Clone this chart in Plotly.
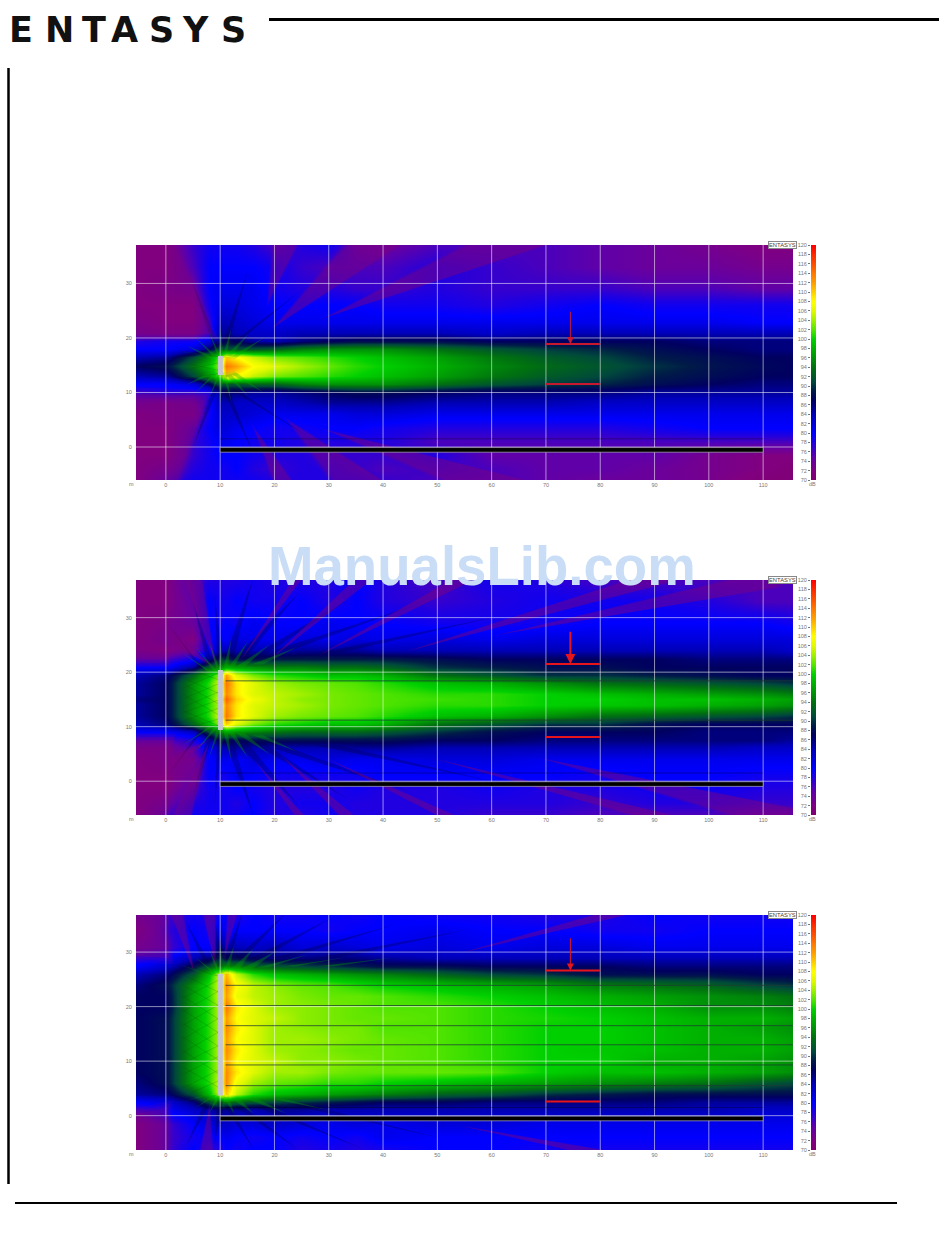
"""ENTASYS line array coverage maps: three SPL panels with dB scales."""

import plotly.graph_objects as go

W, H = 950, 1241

X_COLS = [-5.5, 0, 5, 8, 10, 11, 13, 16, 20, 25, 30, 35, 40, 50, 60, 70, 80, 90, 100, 110, 115.5]

Y_ROWS_1 = [37, 33, 29, 26, 23, 21, 19.5, 18, 16.5, 14.8, 13, 11.5, 10, 8, 6, 3.5, 1, -1.5, -4, -6]
SPL_1 = [
    [72, 72, 77, 79, 79, 79, 79, 78, 76, 78, 79, 75, 74, 76, 76, 76, 75, 74, 73, 72, 72],
    [72, 72, 76, 80, 80, 80, 80, 80, 79, 77, 76, 76, 76, 78, 77, 76, 75, 74, 74, 73, 73],
    [72, 73, 74, 80, 81, 81, 81, 81, 79, 78, 78, 77, 77, 78, 77, 77, 77, 76, 76, 75, 75],
    [72, 72, 72, 79, 82, 82, 82, 81, 80, 80, 80, 80, 79, 79, 78, 79, 80, 79, 79, 79, 79],
    [73, 72, 72, 77, 84, 84, 83, 82, 81, 81, 81, 81, 81, 81, 81, 81, 81, 81, 81, 80, 80],
    [74, 73, 73, 78, 85, 85, 84, 83, 83, 84, 84, 84, 84, 84, 83, 84, 84, 84, 84, 84, 84],
    [78, 79, 79, 82, 86, 88, 87, 85, 84, 86, 87, 88, 88, 88, 87, 87, 87, 87, 86, 86, 86],
    [80, 80, 82, 87, 92, 92, 92, 92, 93, 95, 96, 96, 96, 94, 92, 90.5, 89.5, 88, 87, 86, 86],
    [84, 85, 91, 96, 103, 110, 108, 105, 103, 102, 101, 100, 99, 97, 94.5, 92.5, 91, 89, 88, 87, 87],
    [87, 88, 94, 99, 104, 114, 112, 108, 106, 104, 102.5, 101, 100, 98, 95.5, 93.5, 92, 90, 88.5, 87.5, 87],
    [84, 85, 91, 96, 103, 110, 108, 105, 103, 102, 101, 100, 99, 97, 94.5, 92.5, 91, 89, 88, 87, 87],
    [80, 80, 82, 87, 92, 92, 92, 93, 93, 95, 96, 96, 96, 94, 92, 90.5, 89.5, 88, 87, 86, 86],
    [78, 79, 78, 80, 86, 87, 86, 85, 85, 86, 87, 88, 88, 87, 86, 86, 86, 85, 85, 85, 85],
    [74, 73, 74, 79, 84, 84, 83, 83, 83, 84, 85, 85, 85, 84, 84, 84, 83, 83, 83, 83, 83],
    [72, 73, 73, 79, 83, 83, 83, 82, 81, 81, 81, 82, 82, 81, 81, 81, 81, 81, 81, 81, 81],
    [72, 72, 76, 80, 82, 82, 81, 80, 79, 79, 80, 80, 79, 78, 78, 78, 78, 79, 80, 80, 80],
    [72, 72, 77, 79, 81, 81, 80, 79, 79, 78, 78, 78, 78, 76, 76, 76, 76, 76, 76, 76, 76],
    [72, 72, 77, 79, 80, 80, 80, 79, 78, 78, 77, 77, 77, 78, 75, 75, 75, 75, 73, 72, 72],
    [72, 74, 78, 79, 79, 79, 80, 78, 77, 78, 78, 77, 76, 77, 76, 75, 75, 74, 73, 72, 71],
    [72, 76, 79, 79, 79, 79, 79, 79, 78, 78, 78, 78, 77, 76, 76, 75, 74, 74, 73, 71, 71],
]

Y_ROWS_2 = [37, 33, 29, 26, 24, 22.5, 21, 19.5, 18, 16, 15, 14, 12, 10.5, 9, 7.5, 6, 4, 1, -1.5, -4, -6]
SPL_2 = [
    [72, 72, 76, 78, 78, 78, 78, 79, 78, 78, 78, 80, 78, 76, 79, 78, 76, 76, 76, 76, 76],
    [72, 72, 75, 80, 79, 79, 80, 79, 79, 80, 78, 80, 78, 77, 78, 79, 79, 79, 78, 76, 76],
    [72, 73, 74, 80, 79, 80, 79, 81, 80, 80, 81, 80, 80, 79, 79, 79, 80, 80, 80, 80, 79],
    [72, 74, 72, 80, 81, 80, 82, 81, 81, 82, 81, 82, 81, 82, 81, 82, 82, 82, 82, 82, 82],
    [73, 72, 74, 80, 84, 84, 84, 84, 84, 85, 85, 85, 84, 84, 84, 84, 84, 84, 84, 84, 83],
    [76, 76, 79, 85, 90, 90, 88, 88, 89, 89, 89, 89, 89, 88, 87, 87, 87, 87, 86, 86, 86],
    [80, 80, 85, 93, 96, 98, 97, 96, 95, 95, 94, 94, 93, 90, 89, 88, 88, 87, 87, 87, 87],
    [84, 86, 93, 99, 104, 112, 106, 103, 101, 100, 99, 99, 98, 94, 92, 90, 90, 89, 88, 87, 87],
    [85, 87, 96, 101, 106, 114, 109, 106, 104, 103, 102.5, 102, 101, 99, 98, 96, 94, 93, 92, 91, 90],
    [85, 87, 96, 101, 105, 113, 109, 106, 105, 104, 103, 102.5, 102, 101, 101, 100, 99, 98, 97, 96, 95],
    [86, 87, 96, 101, 106, 115, 110, 107, 105, 103.5, 103, 102.5, 102, 101.5, 101, 100, 100, 99, 99, 98, 97],
    [85, 87, 96, 101, 105, 113, 109, 106, 105, 104, 103, 102.5, 102, 101, 101, 100, 99.5, 99, 98, 97, 96],
    [85, 87, 96, 101, 106, 114, 109, 106, 104, 103, 102.5, 102, 101, 99, 98, 96, 94, 93, 92, 91, 90],
    [84, 86, 93, 99, 104, 110, 106, 103, 101, 100, 99, 99, 98, 94, 92, 90, 90, 88, 87, 87, 87],
    [80, 80, 83, 91, 95, 97, 96, 95, 94, 93, 93, 93, 92, 90, 88, 87, 87, 87, 86, 86, 86],
    [76, 76, 78, 84, 88, 88, 87, 88, 88, 88, 88, 88, 88, 87, 87, 86, 86, 86, 86, 86, 85],
    [73, 73, 76, 81, 84, 84, 85, 84, 84, 84, 84, 85, 85, 84, 84, 84, 84, 84, 84, 83, 83],
    [72, 73, 73, 80, 81, 81, 80, 82, 81, 81, 82, 81, 81, 82, 82, 81, 81, 81, 81, 81, 81],
    [72, 72, 74, 80, 79, 79, 81, 80, 79, 79, 79, 79, 80, 80, 80, 80, 79, 80, 80, 79, 79],
    [72, 72, 76, 79, 79, 79, 80, 79, 78, 78, 78, 79, 78, 78, 79, 78, 78, 79, 79, 78, 78],
    [72, 74, 78, 79, 79, 79, 78, 80, 78, 79, 79, 78, 78, 78, 78, 78, 77, 78, 78, 77, 77],
    [72, 76, 79, 79, 79, 79, 79, 80, 78, 78, 79, 78, 78, 78, 77, 77, 76, 76, 76, 75, 75],
]

Y_ROWS_3 = [37, 34, 31, 29, 27.5, 26, 24, 22, 20, 18, 16, 14, 12, 10, 8, 6, 4, 2.5, 1, -1.5, -4, -6]
SPL_3 = [
    [74, 76, 79, 78, 79, 80, 78, 80, 79, 79, 80, 79, 80, 79, 79, 78, 78, 80, 79, 79, 79],
    [72, 77, 80, 79, 82, 80, 80, 80, 80, 80, 79, 80, 80, 81, 80, 80, 79, 79, 80, 80, 80],
    [74, 76, 80, 80, 86, 84, 84, 83, 84, 82, 83, 82, 81, 82, 81, 82, 82, 81, 81, 81, 81],
    [78, 80, 84, 86, 90, 88, 88, 87, 86, 86, 86, 86, 85, 84, 84, 84, 84, 84, 84, 84, 84],
    [80, 83, 88, 92, 96, 95, 95, 93, 92, 91, 90, 89, 88, 88, 87, 87, 87, 86, 86, 86, 86],
    [84, 86, 92, 99, 106, 111, 105, 101, 99, 98, 97, 96, 95, 93, 91, 90, 88, 88, 88, 87, 87],
    [86, 88, 96, 101, 106, 113, 108, 105, 103.5, 102.5, 102, 101, 100, 99, 98, 97, 95, 94, 93, 91, 90],
    [87, 87, 97, 101, 106, 112, 107, 105, 104, 103, 102.5, 102.5, 102, 101, 100, 99, 98, 97, 96, 95, 94],
    [87, 87, 97, 101, 105, 114, 109, 106, 104, 103.5, 103, 102.5, 102, 102, 101, 100, 99, 98, 96, 96, 95],
    [87, 88, 97, 101, 105, 112, 108, 106, 105, 103.5, 103, 102.5, 102.5, 102, 101, 100.5, 100, 99, 98, 98, 97],
    [87, 88, 97, 101, 105, 113, 109, 106, 104, 103.5, 103, 103, 102, 102, 101, 100, 100, 99, 98, 97, 96],
    [87, 88, 97, 101, 105, 112, 108, 106, 104, 104, 103.5, 103, 102.5, 102, 101, 100, 100, 99, 98, 98, 97],
    [87, 88, 97, 101, 105, 113, 109, 106, 104, 103.5, 103, 102.5, 102.5, 102, 101, 100, 99.5, 99, 98, 98, 97],
    [87, 88, 97, 101, 105, 112, 108, 106, 105, 103.5, 103.5, 103, 102.5, 102, 101, 100, 100, 98, 98, 97, 96],
    [87, 88, 97, 101, 105, 113, 109, 106, 104, 104, 103, 102.5, 102.5, 102.5, 102, 100, 99, 99, 98, 97, 96],
    [86, 88, 97, 101, 106, 113, 107, 104, 102.5, 102, 101, 101, 100, 99, 98, 97, 96, 95, 94, 92, 91],
    [85, 86, 92, 99, 106, 110, 105, 101, 99, 98, 97, 96, 95, 93, 92, 90, 89, 88, 88, 88, 88],
    [80, 82, 86, 92, 95, 94, 93, 92, 91, 90, 89, 88, 87, 87, 86, 86, 86, 86, 85, 85, 85],
    [76, 80, 83, 84, 86, 85, 85, 84, 85, 85, 84, 84, 84, 84, 84, 84, 84, 84, 84, 83, 83],
    [72, 76, 80, 82, 83, 83, 82, 82, 83, 82, 81, 82, 81, 82, 82, 81, 81, 81, 81, 81, 81],
    [72, 76, 79, 80, 80, 81, 80, 79, 80, 79, 80, 79, 81, 80, 80, 80, 80, 80, 80, 80, 80],
    [72, 76, 80, 78, 78, 80, 79, 80, 80, 78, 79, 78, 79, 80, 80, 79, 79, 79, 79, 79, 79],
]

# low level lobes, too narrow for the grids above: polygons in metres
PURPLE_1 = [
    [(-5.5, 37.1), (1.5, 37.1), (8.5, 20.8), (-5.5, 20.8)],
    [(-5.5, 9.6), (7.5, 9.3), (2, -6.1), (-5.5, -6.1)],
    [(20.5, 22.5), (33.5, 37.1), (43, 37.1)],
    [(30, 24), (56, 37.1), (70, 37.1)],
    [(19, 27), (20, 37.1), (24, 37.1)],
    [(23, 4.5), (31, -6.1), (39.5, -6.1)],
    [(30, 3), (52, -6.1), (66, -6.1)],
    [(16.5, 3), (20, -6.1), (23, -6.1)],
]
PURPLE_2 = [
    [(-5.5, 37.1), (0, 37.1), (0.2, 22.5), (-5.5, 22.5)],
    [(-5.5, 7.3), (1, 7.3), (0, -6.2), (-5.5, -6.2)],
    [(8, 21.5), (0, 26), (0, 28.5)],
    [(7, 7), (0, 1.5), (0, 4)],
    [(9, 22), (3.5, 37.1), (6.5, 37.1)],
    [(7.5, 6), (1.5, -6.2), (4.5, -6.2)],
    [(14, 22.5), (23.5, 37.1), (25, 37.1)],
    [(20, 23), (35, 37.1), (38, 37.1)],
    [(29, 23.5), (53, 37.1), (57, 37.1)],
    [(45, 24), (86, 37.1), (95, 37.1)],
    [(62, 27), (112, 35.5), (113, 37.1), (105, 37.1)],
    [(17, 3), (23.8, -6.2), (25.3, -6.2)],
    [(22, 4), (32, -6.2), (34.5, -6.2)],
    [(30, 4), (50, -6.2), (53, -6.2)],
    [(50, 4), (86, -6.2), (93, -6.2)],
    [(70, 4), (105, -6.2), (114, -6.2), (115.5, -5)],
]
PURPLE_3 = [
    [(-5.5, 37.1), (-0.5, 37.1), (0.5, 29), (-5.5, 29.5)],
    [(-5.5, -6.4), (0, -6.4), (0.3, 1.5), (-5.5, 0)],
    [(5, 27), (1, 37.1), (3, 37.1)],
    [(9, 28), (7, 37.1), (9, 37.1)],
    [(11, 30), (11.5, 37.1), (13, 37.1)],
    [(8, 1), (6.5, -6.4), (8.5, -6.4)],
    [(55, 30), (80, 37.1), (86, 37.1)],
    [(55, -2), (75, -6.4), (81, -6.4)],
]

# dark streaks and green spikes fanning out of the array ends: tip first, then base
NAVY_1 = [
    [(5, 30), (8.5, 19), (9.5, 19)],
    [(15, 32), (10.5, 19), (11.5, 19)],
    [(24, 28), (12, 19), (13, 19)],
    [(5, 0), (8.5, 10.5), (9.5, 10.5)],
    [(16, -1), (10.5, 10.5), (11.5, 10.5)],
    [(26, 2), (12, 10.5), (13, 10.5)],
]
NAVY_2 = [
    [(9, 34), (9.5, 21.5), (10.5, 21.5)],
    [(16, 37), (11, 23), (12.5, 23)],
    [(24, 34), (13, 23), (15, 23)],
    [(33, 33), (16, 23), (18, 23)],
    [(45, 32), (20, 24), (23, 24)],
    [(60, 30), (28, 23.5), (32, 23.5)],
    [(5, 33), (7.5, 22), (8.5, 22)],
    [(1, 28), (6, 21), (7, 20.5)],
    [(9, -4), (9.5, 8.5), (10.5, 8.5)],
    [(16, -6), (11, 7), (12.5, 7)],
    [(24, -4), (13, 7), (15, 7)],
    [(33, -3), (16, 7), (18, 7)],
    [(45, -2), (20, 6), (23, 6)],
    [(60, 0), (28, 6.5), (32, 6.5)],
    [(5, -3), (7.5, 8), (8.5, 8)],
    [(1, 2), (6, 9), (7, 9.5)],
]
NAVY_3 = [
    [(9, 36), (9.5, 27.5), (10.5, 27.5)],
    [(14, 37), (11, 29), (12, 29)],
    [(22, 37), (13, 29), (14.5, 29)],
    [(30, 36), (16, 29), (18, 29)],
    [(42, 35), (20, 29), (23, 29)],
    [(55, 34), (28, 29), (32, 29)],
    [(4, 35), (7, 28), (8, 28)],
    [(9, -5), (9.5, 2.5), (10.5, 2.5)],
    [(16, -6), (11, 1.5), (12, 1.5)],
    [(24, -6), (13, 1.5), (14.5, 1.5)],
    [(36, -6), (17, 1.5), (19, 1.5)],
    [(50, -4), (23, 2), (26, 2)],
    [(4, -5), (7, 2), (8, 2)],
]
GREEN_1 = [
    [(4, 18.5), (8.5, 16), (9, 16.5)],
    [(5.5, 20), (8.8, 16.5), (9.2, 16.8)],
    [(8, 21), (9.5, 16.8), (10, 16.8)],
    [(10, 22), (10, 16.8), (10.6, 16.8)],
    [(12, 21.5), (10.5, 16.8), (11.2, 16.8)],
    [(15, 20.5), (11, 16.8), (12, 16.6)],
    [(18, 20), (12, 16.6), (13, 16.4)],
    [(4, 11.5), (8.5, 14), (9, 13.5)],
    [(5.5, 10), (8.8, 13.5), (9.2, 13.2)],
    [(8, 9), (9.5, 13.2), (10, 13.2)],
    [(10, 8), (10, 13.2), (10.6, 13.2)],
    [(12, 8.5), (10.5, 13.2), (11.2, 13.2)],
    [(15, 9.5), (11, 13.2), (12, 13.4)],
    [(18, 10), (12, 13.4), (13, 13.6)],
]
GREEN_2 = [
    [(3, 23.5), (8, 20), (8.6, 20)],
    [(5.5, 24.5), (8.8, 20.3), (9.4, 20.3)],
    [(8, 25.5), (9.4, 20.4), (10, 20.4)],
    [(10, 26.5), (10, 20.4), (10.6, 20.4)],
    [(12, 26), (10.6, 20.6), (11.4, 20.6)],
    [(15, 25.5), (11.5, 20.8), (12.5, 20.8)],
    [(19, 25), (13, 21), (14.5, 21)],
    [(24, 24.5), (16, 21.5), (18, 21.5)],
    [(3, 6.5), (8, 10), (8.6, 10)],
    [(5.5, 5.5), (8.8, 9.7), (9.4, 9.7)],
    [(8, 4.5), (9.4, 9.4), (10, 9.4)],
    [(10, 3.5), (10, 9.4), (10.6, 9.4)],
    [(12, 4), (10.6, 9.2), (11.4, 9.2)],
    [(15, 4.5), (11.5, 9), (12.5, 9)],
    [(19, 5), (13, 8.8), (14.5, 8.8)],
    [(24, 5.5), (16, 8.4), (18, 8.4)],
]
GREEN_3 = [
    [(3, 27.5), (8, 25.8), (8.6, 25.8)],
    [(5.5, 29), (8.8, 26), (9.4, 26)],
    [(8, 30.5), (9.4, 26.2), (10, 26.2)],
    [(10, 31.5), (10, 26.2), (10.6, 26.2)],
    [(12.5, 31), (10.6, 26.4), (11.6, 26.4)],
    [(16, 30.5), (12, 26.8), (13.5, 26.8)],
    [(20, 30), (14, 27), (16, 27)],
    [(26, 29.5), (17, 27.2), (19, 27.2)],
    [(33, 29), (22, 27.4), (24, 27.4)],
    [(42, 29), (28, 27.4), (31, 27.4)],
    [(3, 2.5), (8, 4), (8.6, 4)],
    [(5.5, 1.5), (8.8, 3.8), (9.4, 3.8)],
    [(8, 0.5), (9.4, 3.6), (10, 3.6)],
    [(12.5, 0.5), (10.6, 3.4), (11.6, 3.4)],
    [(16, 0.5), (12, 3.2), (13.5, 3.2)],
    [(22, 0.5), (15, 3), (17, 3)],
    [(30, 1), (20, 3), (22, 3)],
]

# cross hatch left of the array: y at the array, y at x = 3 m
HATCH_1 = [(14, 15.5), (15.5, 14), (16.5, 17.5), (13.5, 12.5)]
HATCH_2 = [
    (10, 13), (11.5, 9.5), (12, 16), (13.5, 11), (14, 18), (15, 12.5), (16, 19),
    (16.5, 13.5), (18, 15), (18.5, 21), (20, 17), (10.5, 7),
]
HATCH_3 = [
    (5, 9), (6.5, 3.5), (7.5, 12), (8.5, 5), (10, 14.5), (11, 7.5), (12.5, 17), (13, 9.5),
    (15, 19.5), (15.5, 11.5), (17.5, 22), (18, 14), (20, 24), (20.5, 16.5), (22.5, 26),
    (23, 19), (25, 21.5), (25.5, 27.5),
]

X_TICKS = [0, 10, 20, 30, 40, 50, 60, 70, 80, 90, 100, 110]
Y_TICKS = [0, 10, 20, 30]
DB_LEVELS = list(range(70, 121, 2))

COLORSCALE = [
    (70, "#80006f"), (72, "#800080"), (75, "#6000a8"), (78, "#2000e0"), (80, "#0000ff"),
    (84, "#0000b8"), (87, "#000060"), (89, "#001a48"), (91, "#00483c"), (94, "#007010"),
    (98, "#00b000"), (100, "#00d000"), (102, "#50e400"), (104, "#a0f000"), (106, "#e0f800"),
    (108, "#ffff00"), (112, "#ffa000"), (116, "#ff5000"), (120, "#ff0000"),
]

# pixel frames of the three maps, top edge only differs
PANEL_TOPS = [245, 580, 915]
PANEL_H = 235
PLOT_LEFT, PLOT_RIGHT = 136, 793
SCALE_LEFT, SCALE_RIGHT = 811, 816
X_RANGE = [-5.5, 115.5]
Y_RANGES = [[-6.05, 37.05], [-6.2, 36.9], [-6.3, 36.8]]

ARRAY_SPANS = [(13.2, 16.7), (9.4, 20.4), (3.7, 26)]
SPLIT_LINES = [[], [18.4, 11.2], [23.9, 20.2, 16.5, 13.0, 9.3, 5.5]]
RED_TOP = [18.9, 21.5, 26.6]
RED_BOTTOM = [11.55, 8.1, 2.6]
ARROW_START = [25.1, 27.7, 32.8]
ARROW_WIDTH = [1, 2, 1]
RED_COLOR = ["#c81830", "#e8141c", "#e8141c"]

LOGO_LETTERS = list("ENTASYS")
LOGO_CENTERS = [21, 59, 94, 124.5, 161, 195.5, 233]


def polygons_trace(polys, fill, grow, xa, ya):
    # grow pushes each corner away from the middle, stacked layers give a soft edge
    xs, ys = [], []
    for poly in polys:
        mx = sum(p[0] for p in poly) / len(poly)
        my = sum(p[1] for p in poly) / len(poly)
        pts = []
        for px, py in poly:
            dist = max(((px - mx) ** 2 + (py - my) ** 2) ** 0.5, 0.01)
            pts.append((px + (px - mx) / dist * grow, py + (py - my) / dist * grow))
        xs += [p[0] for p in pts] + [pts[0][0], None]
        ys += [p[1] for p in pts] + [pts[0][1], None]
    return go.Scatter(
        x=xs, y=ys, mode="lines", fill="toself", fillcolor=fill, line={"width": 0},
        xaxis=xa, yaxis=ya, hoverinfo="skip",
    )


fig = go.Figure()
shapes, notes, axes = [], [], {}
grids = [(Y_ROWS_1, SPL_1), (Y_ROWS_2, SPL_2), (Y_ROWS_3, SPL_3)]
purples = [PURPLE_1, PURPLE_2, PURPLE_3]
navies = [NAVY_1, NAVY_2, NAVY_3]
greens = [GREEN_1, GREEN_2, GREEN_3]
hatches = [HATCH_1, HATCH_2, HATCH_3]

for i, (rows, spl) in enumerate(grids):
    xa, ya = ("x", "y") if i == 0 else (f"x{2 * i + 1}", f"y{2 * i + 1}")
    xb, yb = f"x{2 * i + 2}", f"y{2 * i + 2}"
    top = PANEL_TOPS[i]
    dom_y = [1 - (top + PANEL_H) / H, 1 - top / H]

    fig.add_trace(go.Heatmap(
        x=X_COLS, y=rows[::-1], z=spl[::-1], coloraxis="coloraxis",
        zsmooth="best", xaxis=xa, yaxis=ya, hovertemplate="%{z} dB<extra></extra>",
    ))
    for grow, alpha in ((0.8, 0.1), (0.3, 0.12), (0, 0.12)):
        fig.add_trace(polygons_trace(navies[i], f"rgba(0,0,70,{alpha})", grow, xa, ya))
    for grow, alpha in ((1.6, 0.14), (0.9, 0.18), (0.2, 0.26)):
        fig.add_trace(polygons_trace(purples[i], f"rgba(128,0,128,{alpha})", grow, xa, ya))
    for grow, alpha in ((0.5, 0.12), (0, 0.25)):
        fig.add_trace(polygons_trace(greens[i], f"rgba(0,170,0,{alpha})", grow, xa, ya))
    hatch_x, hatch_y = [], []
    for at_array, at_left in hatches[i]:
        hatch_x += [10, 3, None]
        hatch_y += [at_array, at_left, None]
    fig.add_trace(go.Scatter(
        x=hatch_x, y=hatch_y, mode="lines", line={"color": "rgba(0,70,0,0.18)", "width": 1},
        xaxis=xa, yaxis=ya, hoverinfo="skip",
    ))
    fig.add_trace(go.Heatmap(
        x=[0, 1], y=DB_LEVELS, z=[[v, v] for v in DB_LEVELS], coloraxis="coloraxis",
        zsmooth="best", xaxis=xb, yaxis=yb, hoverinfo="skip",
    ))

    tick_font = {"size": 5.5, "color": "#777", "family": "Liberation Sans"}
    axes[xa.replace("x", "xaxis")] = dict(
        domain=[PLOT_LEFT / W, PLOT_RIGHT / W], range=X_RANGE, anchor=ya, tickvals=X_TICKS,
        showgrid=False, zeroline=False, ticks="", tickfont=tick_font,
    )
    axes[ya.replace("y", "yaxis")] = dict(
        domain=dom_y, range=Y_RANGES[i], anchor=xa, tickvals=Y_TICKS, showgrid=False,
        zeroline=False, ticks="outside", ticklen=2, tickcolor="rgba(0,0,0,0)", tickfont=tick_font,
    )
    axes[xb.replace("x", "xaxis")] = dict(
        domain=[SCALE_LEFT / W, SCALE_RIGHT / W], range=[0, 1], anchor=yb, visible=False,
    )
    axes[yb.replace("y", "yaxis")] = dict(
        domain=dom_y, range=[70, 120], anchor=xb, tickvals=DB_LEVELS, showgrid=False,
        zeroline=False, ticks="outside", ticklen=2, tickcolor="#777", tickwidth=1, tickfont=tick_font,
    )

    # map grid sits over the colour field, so it has to be shapes
    grid = {"color": "rgba(255,255,255,0.55)", "width": 1}
    for v in X_TICKS:
        shapes.append(dict(type="line", xref=xa, yref=f"{ya} domain", x0=v, x1=v, y0=0, y1=1, line=grid))
    for v in Y_TICKS:
        shapes.append(dict(type="line", xref=f"{xa} domain", yref=ya, x0=0, x1=1, y0=v, y1=v, line=grid))

    shapes.append(dict(type="line", xref=xa, yref=ya, x0=10, x1=110, y0=1.5, y1=1.5,
                       line={"color": "rgba(0,0,0,0.3)", "width": 1}))
    shapes.append(dict(type="rect", xref=xa, yref=ya, x0=10, x1=110, y0=-0.95, y1=-0.1,
                       fillcolor="#000", line={"color": "rgba(200,200,200,0.6)", "width": 1}))
    for v in SPLIT_LINES[i]:
        shapes.append(dict(type="line", xref=xa, yref=ya, x0=11, x1=115.5, y0=v, y1=v,
                           line={"color": "rgba(30,60,50,0.75)", "width": 1}))
    low, high = ARRAY_SPANS[i]
    shapes.append(dict(type="rect", xref=xa, yref=ya, x0=9.6, x1=10.5, y0=low, y1=high,
                       fillcolor="#c4c4d4", line={"width": 0}))
    for v in (RED_TOP[i], RED_BOTTOM[i]):
        shapes.append(dict(type="line", xref=xa, yref=ya, x0=70, x1=80, y0=v, y1=v,
                           line={"color": RED_COLOR[i], "width": 2}))

    notes.append(dict(
        xref=xa, yref=ya, axref=xa, ayref=ya, x=74.5, y=RED_TOP[i], ax=74.5, ay=ARROW_START[i],
        showarrow=True, arrowhead=2, arrowsize=1.4 if i != 1 else 1, arrowwidth=ARROW_WIDTH[i],
        arrowcolor=RED_COLOR[i], text="",
    ))
    notes.append(dict(
        xref="paper", yref="paper", x=782.5 / W, y=1 - top / H, text="ENTASYS", showarrow=False,
        xanchor="center", yanchor="middle",
        font={"size": 5.8, "color": "#444", "family": "Liberation Sans"}, bgcolor="#fff",
        bordercolor="#888", borderwidth=1, borderpad=0,
    ))
    for label, px in (("m", 131), ("dB", 812.5)):
        notes.append(dict(
            xref="paper", yref="paper", x=px / W, y=1 - (top + PANEL_H + 3.5) / H, text=label,
            xanchor="center", yanchor="middle", showarrow=False, font=tick_font,
        ))

for letter, cx in zip(LOGO_LETTERS, LOGO_CENTERS):
    notes.append(dict(
        xref="paper", yref="paper", x=cx / W, y=1 - 30 / H, text=letter, showarrow=False,
        xanchor="center", yanchor="middle",
        font={"size": 35, "color": "#111", "family": "DejaVu Sans", "weight": "bold"},
    ))
notes.append(dict(
    xref="paper", yref="paper", x=482 / W, y=1 - 566 / H, text="ManualsLib.com", showarrow=False,
    xanchor="center", yanchor="middle",
    font={"size": 54.6, "color": "#c9ddf6", "family": "Liberation Sans", "weight": "bold"},
))

page_rule = {"color": "#000"}
shapes += [
    dict(type="line", xref="paper", yref="paper", x0=269 / W, x1=939 / W, y0=1 - 19.5 / H, y1=1 - 19.5 / H,
         line={**page_rule, "width": 3}),
    dict(type="line", xref="paper", yref="paper", x0=8.5 / W, x1=8.5 / W, y0=1 - 68 / H, y1=1 - 1184 / H,
         line={**page_rule, "width": 2.5}),
    dict(type="line", xref="paper", yref="paper", x0=15 / W, x1=897 / W, y0=1 - 1203 / H, y1=1 - 1203 / H,
         line={**page_rule, "width": 2}),
]

fig.update_layout(
    width=W, height=H, margin={"l": 0, "r": 0, "t": 0, "b": 0, "autoexpand": False}, paper_bgcolor="#fff",
    plot_bgcolor="#fff", showlegend=False, shapes=shapes, annotations=notes,
    coloraxis={
        "cmin": 70, "cmax": 120, "showscale": False,
        "colorscale": [[(v - 70) / 50, c] for v, c in COLORSCALE],
    },
    **axes,
)

fig.write_html(
    "out.html",
    config={"displayModeBar": False},
    post_script="document.body.style.margin='0';document.body.style.overflow='hidden';",
)
